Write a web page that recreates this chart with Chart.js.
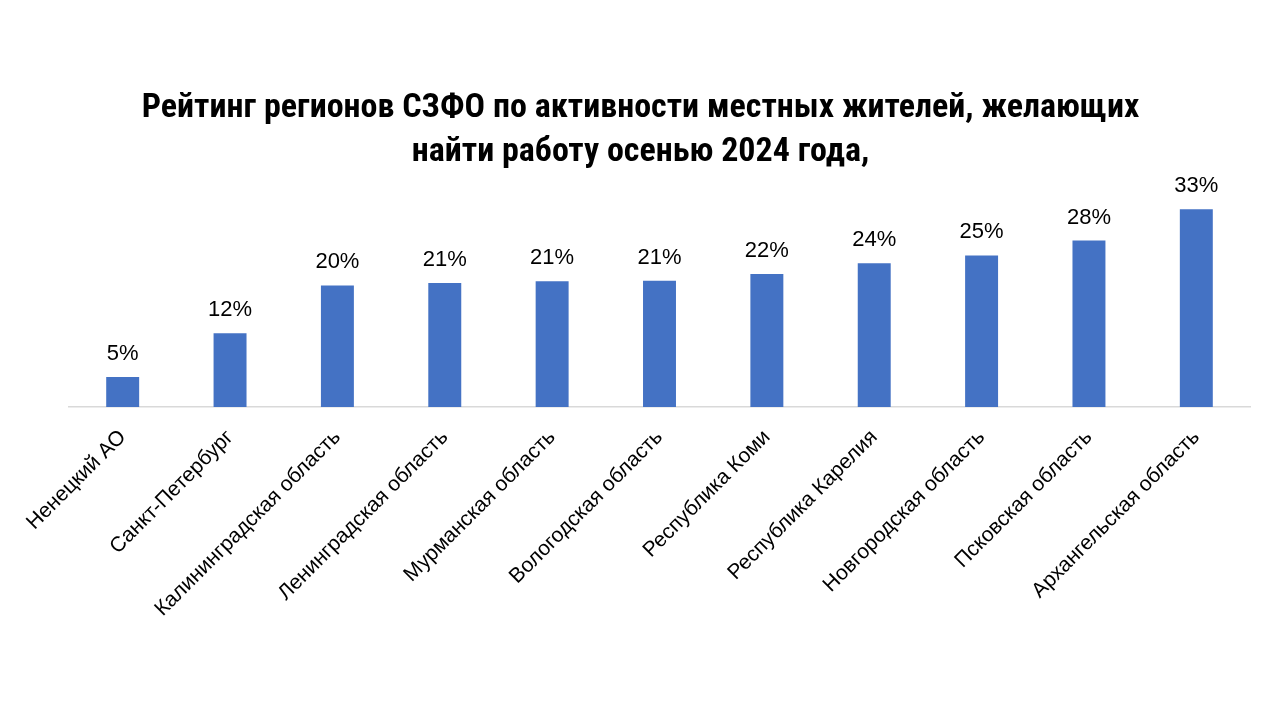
<!DOCTYPE html>
<html>
<head>
<meta charset="utf-8">
<script src="https://cdn.jsdelivr.net/npm/chart.js@4.4.1/dist/chart.umd.min.js"></script>
<style>
html,body{margin:0;padding:0;background:#fff;}
#wrap{width:1262px;height:709px;position:relative;}
</style>
</head>
<body>
<div id="wrap"><canvas id="c" width="1262" height="709"></canvas></div>
<script>
const categories = ["Ненецкий АО","Санкт-Петербург","Калининградская область","Ленинградская область","Мурманская область","Вологодская область","Республика Коми","Республика Карелия","Новгородская область","Псковская область","Архангельская область"];
const values = [5.0, 12.3, 20.3, 20.7, 21.0, 21.1, 22.2, 24.0, 25.3, 27.8, 33.0];
const titleLines = ["Рейтинг регионов СЗФО по активности местных жителей, желающих","найти работу осенью 2024 года,"];

const TITLE_FONT = "'Roboto Condensed','Liberation Sans',sans-serif";
const LABEL_FONT = "'Liberation Sans',Arial,sans-serif";

const labelPlugin = {
  id: 'valLabels',
  afterDatasetsDraw(chart) {
    const ctx = chart.ctx;
    const meta = chart.getDatasetMeta(0);
    ctx.save();
    ctx.font = "22px " + LABEL_FONT;
    ctx.fillStyle = "#000";
    ctx.textAlign = "center";
    ctx.textBaseline = "alphabetic";
    meta.data.forEach((bar, i) => {
      ctx.fillText(Math.round(values[i]) + "%", bar.x, bar.y - 17);
    });
    ctx.restore();
  }
};

new Chart(document.getElementById('c'), {
  type: 'bar',
  data: {
    labels: categories,
    datasets: [{
      data: values,
      backgroundColor: '#4472C4',
      borderWidth: 0,
      categoryPercentage: 1,
      barPercentage: 0.307
    }]
  },
  options: {
    responsive: false,
    animation: false,
    events: [],
    layout: { padding: { left: 31, right: 12, top: 86, bottom: 0 } },
    plugins: {
      legend: { display: false },
      tooltip: { enabled: false },
      title: {
        display: true,
        text: titleLines,
        color: '#000',
        font: { family: TITLE_FONT, size: 34, weight: 'bold', lineHeight: 1.3 },
        padding: { top: 0, bottom: 17 }
      }
    },
    scales: {
      x: {
        grid: { display: false },
        border: { display: true, color: '#d9d9d9', width: 1.5 },
        afterFit(scale) { scale.height = 709 - 407; },
        ticks: {
          color: '#000',
          font: { family: LABEL_FONT, size: 21 },
          maxRotation: 45, minRotation: 45,
          autoSkip: false,
          padding: 10
        }
      },
      y: {
        display: true,
        min: 0, max: 36,
        grid: { display: false },
        border: { display: false },
        ticks: { display: false },
        afterFit(scale) { scale.width = 38; }
      }
    }
  },
  plugins: [labelPlugin]
});
</script>
</body>
</html>
